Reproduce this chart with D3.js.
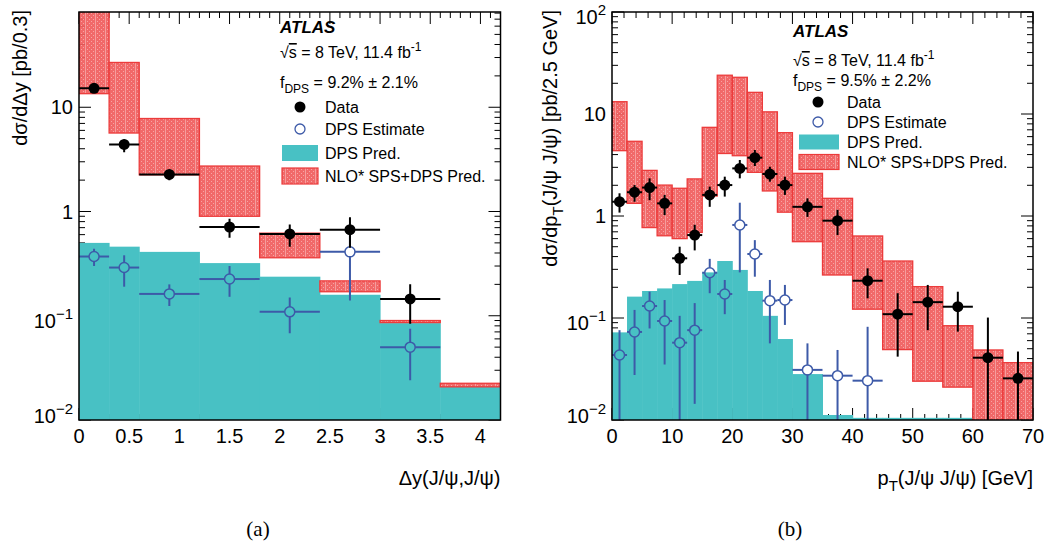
<!DOCTYPE html>
<html>
<head>
<meta charset="utf-8">
<script src="https://cdn.jsdelivr.net/npm/d3@7"></script>
<style>
  body { margin: 0; background: #fff; }
  text { font-family: "Liberation Sans", Arial, Helvetica, sans-serif; fill: #000; }
</style>
</head>
<body>
<svg id="chart" width="1056" height="547"></svg>
<script>
  // ---- panel (a): delta y ----
  var dyEdges = [0, 0.3, 0.6, 1.2, 1.8, 2.4, 3.0, 3.6, 4.2];
  var dyNloHi = [120, 26.9, 7.8, 2.73, 0.62, 0.216, 0.09, 0.0225];
  var dyNloLo = [13.5, 5.66, 2.25, 0.90, 0.36, 0.17, 0.086, 0.0208];
  var dyDpsPred = [0.50, 0.46, 0.41, 0.32, 0.237, 0.159, 0.085, 0.021];
  var dyData = [15.2, 4.4, 2.27, 0.71, 0.61, 0.67, 0.145];
  var dyDataHi = [16.3, 4.9, 2.48, 0.85, 0.75, 0.88, 0.20];
  var dyDataLo = [14.2, 3.7, 1.99, 0.56, 0.46, 0.45, 0.084];
  var dyEst = [0.37, 0.29, 0.162, 0.225, 0.109, 0.41, 0.05];
  var dyEstHi = [0.44, 0.38, 0.20, 0.30, 0.15, 0.60, 0.075];
  var dyEstLo = [0.30, 0.19, 0.124, 0.152, 0.068, 0.14, 0.024];

  // ---- panel (b): pT ----
  var ptEdges = [0, 2.5, 5, 7.5, 10, 12.5, 15, 17.5, 20, 22.5, 25, 27.5, 30, 35, 40, 45, 50, 55, 60, 65, 70];
  var ptNloHi = [13.2, 5.4, 2.8, 2.01, 1.87, 2.31, 7.4, 24, 22.9, 16.3, 10.5, 6.56, 2.62, 1.49, 0.637, 0.362, 0.203, 0.084, 0.0486, 0.0365];
  var ptNloLo = [4.37, 1.33, 0.77, 0.64, 0.60, 0.69, 1.57, 4.1, 3.9, 2.68, 1.76, 1.09, 0.56, 0.264, 0.122, 0.049, 0.024, 0.021, 0.001, 0.001];
  var ptDpsPred = [0.0723, 0.162, 0.184, 0.195, 0.215, 0.231, 0.28, 0.362, 0.296, 0.184, 0.105, 0.0622, 0.0282, 0.0112, 0.0105, 0.0105, 0.0105, 0.0105, 0.009, 0.009];
  var ptData = [1.38, 1.71, 1.9, 1.33, 0.385, 0.65, 1.61, 2.01, 2.93, 3.73, 2.58, 2.01, 1.23, 0.9, 0.232, 0.109, 0.143, 0.129, 0.0408, 0.0256];
  var ptDataHi = [1.67, 2.01, 2.34, 1.61, 0.5, 0.82, 1.94, 2.43, 3.54, 4.44, 3.04, 2.43, 1.49, 1.15, 0.307, 0.175, 0.211, 0.181, 0.101, 0.0469];
  var ptDataLo = [1.08, 1.38, 1.43, 1.02, 0.264, 0.46, 1.23, 1.55, 2.34, 3.09, 2.17, 1.61, 0.98, 0.65, 0.156, 0.0418, 0.076, 0.0735, 0.001, 0.001];
  var ptEst = [0.0434, 0.073, 0.131, 0.0935, 0.0573, 0.076, 0.278, 0.172, 0.817, 0.424, 0.148, 0.15, 0.031, 0.0272, 0.0243];
  var ptEstHi = [0.076, 0.12, 0.181, 0.15, 0.105, 0.14, 0.38, 0.236, 1.35, 0.58, 0.236, 0.211, 0.0564, 0.0486, 0.082];
  var ptEstLo = [0.001, 0.0276, 0.079, 0.035, 0.001, 0.0144, 0.175, 0.109, 0.28, 0.254, 0.0564, 0.0855, 0.001, 0.001, 0.001];

  var legendLabels = ['Data', 'DPS Estimate', 'DPS Pred.', 'NLO* SPS+DPS Pred.'];

  var TEAL = '#48c1c4', RED = '#ec3b3b', BLUE = '#3d5aa8';
  var svg = d3.select('#chart');

  // red speckled fill used by the NLO* band
  var defs = svg.append('defs');
  var pat = defs.append('pattern').attr('id', 'nloPat')
      .attr('patternUnits', 'userSpaceOnUse').attr('width', 10).attr('height', 4);
  pat.append('rect').attr('width', 10).attr('height', 4).attr('fill', '#f05e5e').attr('fill-opacity', 0.93);
  [[1, 1], [3, 3], [7, 1], [9, 3]].forEach(function (d) {
    pat.append('rect').attr('x', d[0]).attr('y', d[1]).attr('width', 1).attr('height', 1)
      .attr('fill', '#f7a4a4');
  });
  pat.append('rect').attr('x', 5).attr('y', 0).attr('width', 1).attr('height', 4)
    .attr('fill', '#f8b4b4').attr('fill-opacity', 0.7);

  function drawPanel(p) {
    var g = svg.append('g');
    var x = d3.scaleLinear().domain(p.xDomain).range([p.left, p.right]);
    var y = d3.scaleLog().domain(p.yDomain).range([p.bottom, p.top]);

    defs.append('clipPath').attr('id', p.id + '-clip')
      .append('rect').attr('x', p.left).attr('y', p.top)
      .attr('width', p.right - p.left).attr('height', p.bottom - p.top);

    // ticks inside the frame (drawn first, fills cover them)
    var ticks = g.append('g').attr('stroke', '#000').attr('stroke-width', 1);
    var xt = d3.range(p.xDomain[0], p.xDomain[1] + 1e-9, p.xMinor);
    xt.forEach(function (v) {
      var major = Math.abs(v / p.xMajor - Math.round(v / p.xMajor)) < 1e-6;
      var len = major ? 12 : 6;
      ticks.append('line').attr('x1', x(v)).attr('x2', x(v)).attr('y1', p.bottom).attr('y2', p.bottom - len);
      ticks.append('line').attr('x1', x(v)).attr('x2', x(v)).attr('y1', p.top).attr('y2', p.top + len);
    });
    y.ticks().forEach(function (v) {
      var major = Math.abs(Math.log10(v) - Math.round(Math.log10(v))) < 1e-6;
      var len = major ? 12 : 6;
      ticks.append('line').attr('y1', y(v)).attr('y2', y(v)).attr('x1', p.left).attr('x2', p.left + len);
      ticks.append('line').attr('y1', y(v)).attr('y2', y(v)).attr('x1', p.right).attr('x2', p.right - len);
    });

    var plot = g.append('g').attr('clip-path', 'url(#' + p.id + '-clip)');
    var bins = d3.range(p.edges.length - 1);

    // DPS prediction
    plot.selectAll('rect.dps').data(bins).enter().append('rect')
      .attr('x', function (i) { return x(p.edges[i]); })
      .attr('width', function (i) { return x(p.edges[i + 1]) - x(p.edges[i]) + 0.5; })
      .attr('y', function (i) { return y(p.dps[i]); })
      .attr('height', function (i) { return p.bottom + 2 - y(p.dps[i]); })
      .attr('fill', TEAL);

    // NLO* band
    plot.selectAll('rect.nlo').data(bins).enter().append('rect')
      .attr('x', function (i) { return x(p.edges[i]); })
      .attr('width', function (i) { return x(p.edges[i + 1]) - x(p.edges[i]); })
      .attr('y', function (i) { return y(p.nloHi[i]); })
      .attr('height', function (i) { return Math.max(2, y(p.nloLo[i]) - y(p.nloHi[i])); })
      .attr('fill', 'url(#nloPat)')
      .attr('stroke', RED).attr('stroke-width', 1.3);

    function points(vals, hi, lo, color, r, hollow) {
      var gp = plot.append('g');
      vals.forEach(function (v, i) {
        var cx = x((p.edges[i] + p.edges[i + 1]) / 2), cy = y(v);
        var gap = hollow ? r : 0;
        var segs = [
          [x(p.edges[i]), cy, cx - gap, cy],
          [cx + gap, cy, x(p.edges[i + 1]), cy],
          [cx, y(hi[i]), cx, cy - gap],
          [cx, cy + gap, cx, y(lo[i])]
        ];
        segs.forEach(function (s) {
          gp.append('line').attr('x1', s[0]).attr('y1', s[1]).attr('x2', s[2]).attr('y2', s[3])
            .attr('stroke', color).attr('stroke-width', 2);
        });
        gp.append('circle').attr('cx', cx).attr('cy', cy).attr('r', r)
          .attr('fill', hollow ? 'none' : color)
          .attr('stroke', color).attr('stroke-width', hollow ? 1.5 : 0);
      });
    }
    points(p.est, p.estHi, p.estLo, BLUE, 5, true);
    points(p.data, p.dataHi, p.dataLo, '#000', 5.5, false);

    // frame
    g.append('rect').attr('x', p.left).attr('y', p.top)
      .attr('width', p.right - p.left).attr('height', p.bottom - p.top)
      .attr('fill', 'none').attr('stroke', '#000').attr('stroke-width', 1.5);

    // x tick labels
    p.xLabels.forEach(function (v) {
      g.append('text').attr('x', x(v)).attr('y', p.bottom + 23)
        .attr('text-anchor', 'middle').attr('font-size', 20).text(v);
    });
    // y tick labels
    y.ticks().filter(function (v) {
      return Math.abs(Math.log10(v) - Math.round(Math.log10(v))) < 1e-6;
    }).forEach(function (v) {
      var e = Math.round(Math.log10(v));
      var t = g.append('text').attr('x', p.left - 6).attr('text-anchor', 'end').attr('font-size', 20);
      if (e === 0) { t.attr('y', y(v) + 7).text('1'); return; }
      if (e === 1) { t.attr('y', y(v) + 7).text('10'); return; }
      var base = y(v) + 12;
      if (y(v) > p.bottom - 1) base = y(v) + 3;
      t.attr('y', base).text('10');
      t.append('tspan').attr('font-size', 15).attr('dy', -9).text(e < 0 ? '\u2212' + (-e) : e);
    });

    // axis titles
    var yt = g.append('text').attr('text-anchor', 'end').attr('font-size', 20)
      .attr('transform', 'translate(' + p.yTitleX + ',' + (p.top - 2) + ') rotate(-90)');
    p.yTitle(yt);
    var xtl = g.append('text').attr('x', p.right).attr('y', 485).attr('text-anchor', 'end').attr('font-size', 20);
    p.xTitle(xtl);

    // caption
    g.append('text').attr('x', p.capX).attr('y', 536).attr('text-anchor', 'middle')
      .attr('font-size', 21).style('font-family', '"Liberation Serif", "Times New Roman", serif').text(p.caption);

    // header text and legend
    var L = p.leg;
    g.append('text').attr('x', L.x).attr('y', L.atlasY).attr('font-size', 17)
      .attr('font-weight', 'bold').attr('font-style', 'italic').text('ATLAS');
    var s = g.append('text').attr('x', L.x).attr('y', L.sY).attr('font-size', 16);
    s.append('tspan').text('\u221A');
    s.append('tspan').style('text-decoration', 'overline').text('s');
    s.append('tspan').text(' = 8 TeV, 11.4 fb');
    s.append('tspan').attr('font-size', 12).attr('dy', -7).text('-1');
    var f = g.append('text').attr('x', L.x).attr('y', L.fY).attr('font-size', 16);
    f.append('tspan').text('f');
    f.append('tspan').attr('font-size', 12).attr('dy', 5).text('DPS');
    f.append('tspan').attr('dy', -5).text(' = ' + p.fdps);

    legendLabels.forEach(function (lab, i) {
      g.append('text').attr('x', L.textX).attr('y', L.rows[i] + 6).attr('font-size', 16).text(lab);
    });
    g.append('circle').attr('cx', L.markX).attr('cy', L.rows[0]).attr('r', 5.5).attr('fill', '#000');
    g.append('circle').attr('cx', L.markX).attr('cy', L.rows[1]).attr('r', 5)
      .attr('fill', 'none').attr('stroke', BLUE).attr('stroke-width', 1.3);
    g.append('rect').attr('x', L.boxX).attr('y', L.rows[2] - L.boxH / 2)
      .attr('width', L.boxW).attr('height', L.boxH).attr('fill', TEAL);
    g.append('rect').attr('x', L.boxX).attr('y', L.rows[3] - L.boxH / 2)
      .attr('width', L.boxW).attr('height', L.boxH).attr('fill', 'url(#nloPat)')
      .attr('stroke', RED).attr('stroke-width', 1.2);
  }

  drawPanel({
    id: 'pa', left: 79, right: 500.5, top: 12, bottom: 420,
    xDomain: [0, 4.2], yDomain: [0.01, 82], xMajor: 0.5, xMinor: 0.1,
    xLabels: [0, 0.5, 1, 1.5, 2, 2.5, 3, 3.5, 4],
    edges: dyEdges, nloHi: dyNloHi, nloLo: dyNloLo, dps: dyDpsPred,
    data: dyData, dataHi: dyDataHi, dataLo: dyDataLo,
    est: dyEst, estHi: dyEstHi, estLo: dyEstLo,
    yTitleX: 27,
    yTitle: function (t) { t.text('d\u03C3/d\u0394y [pb/0.3]'); },
    xTitle: function (t) { t.text('\u0394y(J/\u03C8,J/\u03C8)'); },
    capX: 258, caption: '(a)', fdps: '9.2% \u00B1 2.1%',
    leg: { x: 280, atlasY: 33, sY: 58, fY: 88, rows: [107, 129, 153, 176],
           markX: 300, textX: 325, boxX: 282, boxW: 36, boxH: 16 }
  });

  drawPanel({
    id: 'pb', left: 612, right: 1033, top: 12, bottom: 420,
    xDomain: [0, 70], yDomain: [0.01, 100], xMajor: 10, xMinor: 2,
    xLabels: [0, 10, 20, 30, 40, 50, 60, 70],
    edges: ptEdges, nloHi: ptNloHi, nloLo: ptNloLo, dps: ptDpsPred,
    data: ptData, dataHi: ptDataHi, dataLo: ptDataLo,
    est: ptEst, estHi: ptEstHi, estLo: ptEstLo,
    yTitleX: 557,
    yTitle: function (t) {
      t.append('tspan').text('d\u03C3/dp');
      t.append('tspan').attr('font-size', 15).attr('dy', 6).text('T');
      t.append('tspan').attr('dy', -6).text('(J/\u03C8 J/\u03C8) [pb/2.5 GeV]');
    },
    xTitle: function (t) {
      t.append('tspan').text('p');
      t.append('tspan').attr('font-size', 15).attr('dy', 6).text('T');
      t.append('tspan').attr('dy', -6).text('(J/\u03C8 J/\u03C8) [GeV]');
    },
    capX: 790, caption: '(b)', fdps: '9.5% \u00B1 2.2%',
    leg: { x: 793, atlasY: 37, sY: 66, fY: 86, rows: [102, 122, 142, 162],
           markX: 818, textX: 847, boxX: 799, boxW: 40, boxH: 15 }
  });
</script>
</body>
</html>
